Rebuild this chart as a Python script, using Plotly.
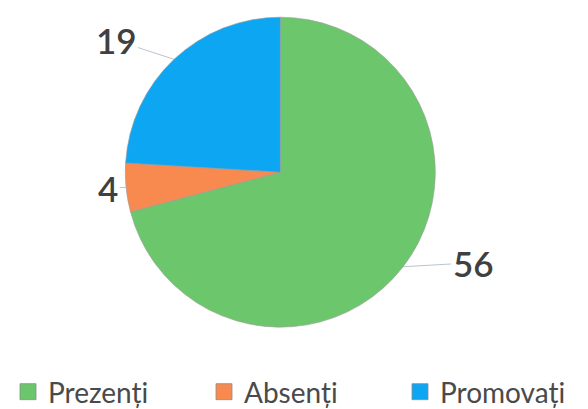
import math
import plotly.graph_objects as go

# data
labels = ["Prezenți", "Absenți", "Promovați"]
values = [56, 4, 19]
colors = ["#6CC66B", "#F88A4F", "#0DA6F3"]

W, H = 588, 409
dom_x = [0.1995, 0.7267]
dom_y = [0.2196, 0.9776]

# pixel offsets of the value labels from the slice edge (layout only)
label_shift = [(70, -4), (-18, 0), (-58, -19)]

fig = go.Figure()
fig.add_trace(go.Pie(
    labels=labels,
    values=values,
    sort=False,
    direction="clockwise",
    rotation=0,
    marker=dict(colors=colors, line=dict(color="#9a9a9a", width=0.6)),
    textinfo="none",
    hoverinfo="label+value",
    showlegend=False,
    domain=dict(x=dom_x, y=dom_y),
))

# legend entries with bigger outlined squares than the pie legend gives
for name, col in zip(labels, colors):
    fig.add_trace(go.Scatter(
        x=[None], y=[None], mode="markers", name=name,
        marker=dict(symbol="square", size=16, color=col,
                    line=dict(color="#8a8a8a", width=0.8)),
    ))

# value labels with thin leader lines, placed at each slice's mid angle
cx = (dom_x[0] + dom_x[1]) / 2
cy = (dom_y[0] + dom_y[1]) / 2
r_px = (dom_y[1] - dom_y[0]) * H / 2
total = sum(values)
start = 0
for v, (ax, ay) in zip(values, label_shift):
    mid = math.radians((start + v / 2) / total * 360)
    start += v
    fig.add_annotation(
        x=cx + math.sin(mid) * r_px / W,
        y=cy + math.cos(mid) * r_px / H,
        xref="paper", yref="paper",
        text=str(v),
        showarrow=True, arrowhead=0, arrowwidth=0.8, arrowcolor="#a8b4c0",
        ax=ax, ay=ay,
        font=dict(size=35, color="#404040", family="Lato", weight=600),
    )

fig.update_layout(
    width=W, height=H,
    margin=dict(l=0, r=0, t=0, b=0),
    paper_bgcolor="white",
    plot_bgcolor="white",
    xaxis=dict(visible=False),
    yaxis=dict(visible=False),
    font=dict(family="Lato", color="#404040"),
    showlegend=True,
    legend=dict(
        orientation="h",
        x=15 / W, xanchor="left",
        y=0.0, yanchor="bottom",
        font=dict(size=28, color="#4a4a4a"),
        entrywidth=151,
        itemwidth=30,
    ),
)

fig.write_html("out.html")
